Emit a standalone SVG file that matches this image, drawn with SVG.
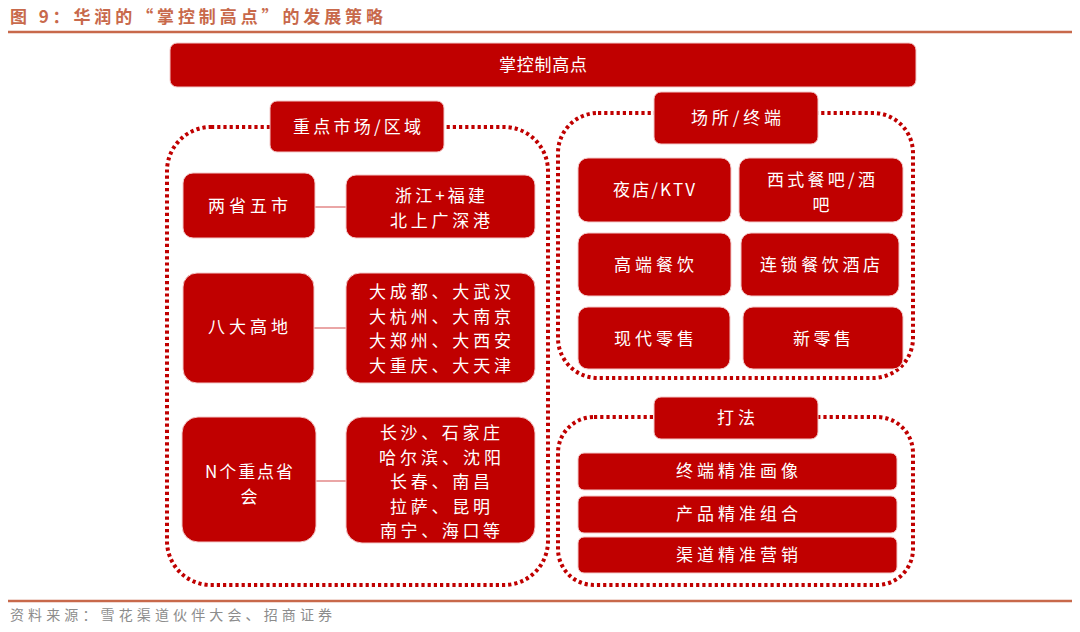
<svg xmlns="http://www.w3.org/2000/svg" width="1080" height="632" viewBox="0 0 1080 632">
<style>
.bg{fill:#ffffff}
.box{fill:#c00000;stroke:#f3c9c9;stroke-width:1}
.t{font-family:"Noto Sans CJK SC","Liberation Sans",sans-serif;font-size:17px;fill:#ffffff;text-anchor:middle}
.dot{fill:none;stroke:#c00000;stroke-width:4;stroke-dasharray:3.2 3}
.conn{stroke:#eaa6a6;stroke-width:2;fill:none}
.rule{stroke:#c8694b;stroke-width:2.5}
</style>
<rect class="bg" x="0" y="0" width="1080" height="632"/>
<g id="header">
<text x="10" y="23" font-family="'Noto Sans CJK SC','Liberation Sans',sans-serif" font-size="17" font-weight="bold" fill="#c8694b" textLength="373" lengthAdjust="spacing">图 9：华润的“掌控制高点”的发展策略</text>
<line class="rule" x1="8" y1="32" x2="1072" y2="32"/>
</g>
<g id="frames">
<rect class="dot" x="167" y="127" width="381" height="458" rx="44"/>
<rect class="dot" x="558" y="113" width="355" height="265" rx="40"/>
<rect class="dot" x="558" y="417" width="355" height="168" rx="36"/>
</g>
<g id="connectors">
<line class="conn" x1="315" y1="207" x2="346" y2="207"/>
<line class="conn" x1="314" y1="328" x2="346" y2="328"/>
<line class="conn" x1="316" y1="481" x2="346" y2="481"/>
</g>
<g id="n-top"><rect class="box" x="170" y="43" width="746" height="44" rx="7"/><text class="t" x="543" y="71" textLength="88">掌控制高点</text></g>
<g id="n-zhongdian"><rect class="box" x="270" y="101" width="174" height="51" rx="7"/><text class="t" x="357" y="133" textLength="128">重点市场/区域</text></g>
<g id="n-liangsheng"><rect class="box" x="183" y="173" width="132" height="65" rx="10"/><text class="t" x="248" y="212" textLength="80">两省五市</text></g>
<g id="n-zhejiang"><rect class="box" x="346" y="175" width="189" height="63" rx="10"/><text class="t" x="440" y="202" textLength="90">浙江+福建</text><text class="t" x="440" y="227" textLength="100">北上广深港</text></g>
<g id="n-bada"><rect class="box" x="183" y="273" width="131" height="110" rx="14"/><text class="t" x="248" y="333" textLength="80">八大高地</text></g>
<g id="n-bada-list"><rect class="box" x="346" y="273" width="189" height="110" rx="14"/>
<text class="t" x="440" y="298" textLength="142">大成都、大武汉</text>
<text class="t" x="440" y="323" textLength="142">大杭州、大南京</text>
<text class="t" x="440" y="347" textLength="142">大郑州、大西安</text>
<text class="t" x="440" y="372" textLength="142">大重庆、大天津</text></g>
<g id="n-nge"><rect class="box" x="182" y="417" width="134" height="125" rx="16"/><text class="t" x="249" y="478" textLength="88">N个重点省</text><text class="t" x="249" y="503">会</text></g>
<g id="n-nge-list"><rect class="box" x="346" y="417" width="189" height="126" rx="16"/>
<text class="t" x="440" y="439" textLength="120">长沙、石家庄</text>
<text class="t" x="440" y="464" textLength="122">哈尔滨、沈阳</text>
<text class="t" x="440" y="488" textLength="100">长春、南昌</text>
<text class="t" x="440" y="513" textLength="100">拉萨、昆明</text>
<text class="t" x="440" y="537" textLength="120">南宁、海口等</text></g>
<g id="n-changsuo"><rect class="box" x="654" y="92" width="164" height="52" rx="7"/><text class="t" x="736" y="124" textLength="90">场所/终端</text></g>
<g id="n-yedian"><rect class="box" x="578" y="158" width="153" height="64" rx="10"/><text class="t" x="654" y="196" textLength="82">夜店/KTV</text></g>
<g id="n-xishi"><rect class="box" x="739" y="158" width="164" height="64" rx="10"/><text class="t" x="821" y="186" textLength="108">西式餐吧/酒</text><text class="t" x="821" y="211">吧</text></g>
<g id="n-gaoduan"><rect class="box" x="578" y="233" width="153" height="63" rx="10"/><text class="t" x="654" y="271" textLength="80">高端餐饮</text></g>
<g id="n-liansuo"><rect class="box" x="741" y="233" width="158" height="63" rx="10"/><text class="t" x="820" y="271" textLength="120">连锁餐饮酒店</text></g>
<g id="n-xiandai"><rect class="box" x="578" y="307" width="152" height="62" rx="10"/><text class="t" x="654" y="345" textLength="80">现代零售</text></g>
<g id="n-xinlingshou"><rect class="box" x="743" y="307" width="160" height="62" rx="10"/><text class="t" x="822" y="345" textLength="58">新零售</text></g>
<g id="n-dafa"><rect class="box" x="654" y="397" width="164" height="42" rx="7"/><text class="t" x="736" y="424" textLength="38">打法</text></g>
<g id="n-zhongduan"><rect class="box" x="578" y="453" width="319" height="37" rx="6"/><text class="t" x="737" y="477" textLength="122">终端精准画像</text></g>
<g id="n-chanpin"><rect class="box" x="578" y="496" width="319" height="37" rx="6"/><text class="t" x="737" y="520" textLength="122">产品精准组合</text></g>
<g id="n-qudao"><rect class="box" x="578" y="537" width="319" height="36" rx="6"/><text class="t" x="737" y="561" textLength="122">渠道精准营销</text></g>
<g id="footer">
<line class="rule" x1="8" y1="601" x2="1072" y2="601"/>
<text x="10" y="620" font-family="'Noto Sans CJK SC','Liberation Sans',sans-serif" font-size="14" fill="#8c8c8c" textLength="322" lengthAdjust="spacing">资料来源：雪花渠道伙伴大会、招商证券</text>
</g>
</svg>
